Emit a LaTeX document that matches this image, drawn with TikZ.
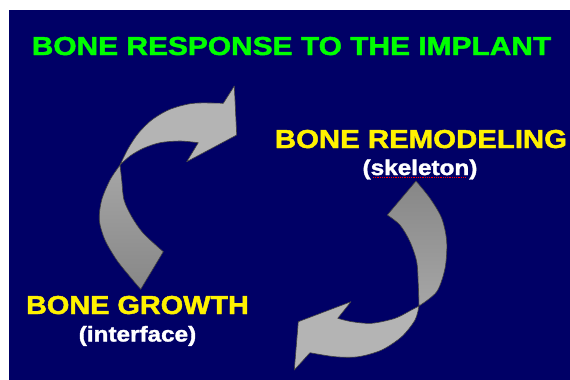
\documentclass[tikz,border=0pt]{standalone}
\usepackage{fontspec}
\setmainfont{Liberation Sans}[BoldFeatures={FakeBold=1.6}]
\usepackage{graphicx}
\definecolor{slidebg}{HTML}{000066}
\definecolor{ribbonlight}{HTML}{B4B4B4}
\definecolor{ribbondark}{HTML}{969696}
\begin{document}
\begin{tikzpicture}
[x=1pt, y=-1pt,
headline/.style={font=\fontsize{26}{30}\selectfont\bfseries, inner sep=0pt, anchor=base},
subline/.style={font=\fontsize{21.5}{24}\selectfont\bfseries, inner sep=0pt, anchor=base, text=white}
]
\tikzset{ribbon/.style={draw=black!75, line width=0.6pt, line join=round}}
%\tikzset{ribbon/.style={draw=none}}
\useasboundingbox (0,0) rectangle (570,380);
\fill[white] (0,0) rectangle (570,380);
\fill[slidebg] (9,10) rectangle (570,380);

\node[headline, text=green] (title) at (291.5,55) {\scalebox{1.15}[1]{BONE RESPONSE TO THE IMPLANT}};
\node[headline, text=yellow] (remodel) at (421,148) {\scalebox{1.13}[1]{BONE REMODELING}};
\node[subline] (skeleton) at (420,175) {\scalebox{1.13}[1]{(skeleton)}};
\node[headline, text=yellow] (growth) at (137.5,314) {\scalebox{1.11}[1]{BONE GROWTH}};
\node[subline] (interface) at (137.5,341.5) {\scalebox{1.13}[1]{(interface)}};
\draw[red, densely dotted, line width=0.8pt] (373,177.5) -- (465,177.5);

% left ribbon
\path[ribbon, top color=ribbondark!85, bottom color=ribbondark!90!black]
  plot[smooth] coordinates {(120,165) (110,180) (101.7,200) (99.3,220) (105,240) (116.7,260) (130,276.7) (140.7,289.3)}
  -- plot[smooth] coordinates {(163.3,251.7) (143.3,233.3) (131.7,216.7) (124,200) (121.7,180) (120,165)} -- cycle;
\path[ribbon, fill=ribbonlight]
  plot[smooth] coordinates {(120,165) (128.3,148.3) (138.3,133.3) (151.7,120) (170,109.3) (193.3,103.3) (223.3,103.3)}
  -- (234.3,86) -- (236.7,135) -- (186.7,161.7)
  -- plot[smooth] coordinates {(198.3,142.7) (180,141) (160,142.7) (143.3,148.3) (130,156) (120,165)} -- cycle;

% right ribbon
\path[ribbon, top color=ribbondark!90!black, bottom color=ribbondark!85]
  plot[smooth] coordinates {(416,181) (430,198.3) (441.7,218.3) (446.7,241.7) (445,268.3) (436.7,291.7) (419,306)}
  -- plot[smooth] coordinates {(419,306) (418.3,285) (416.7,261.7) (410,241.7) (400,225) (387.3,215)} -- cycle;
\path[ribbon, fill=ribbonlight]
  plot[smooth] coordinates {(419,306) (413.3,309) (395,318.3) (371.7,323.3) (351.7,321.7) (337.7,318.3)}
  -- (351,301.7) -- (298.3,321.7) -- (294.3,370)
  -- plot[smooth] coordinates {(310,352.7) (335,356.7) (358.3,356.7) (381.7,350) (401.7,336.7) (415,320) (419,306)} -- cycle;
\end{tikzpicture}
\end{document}
